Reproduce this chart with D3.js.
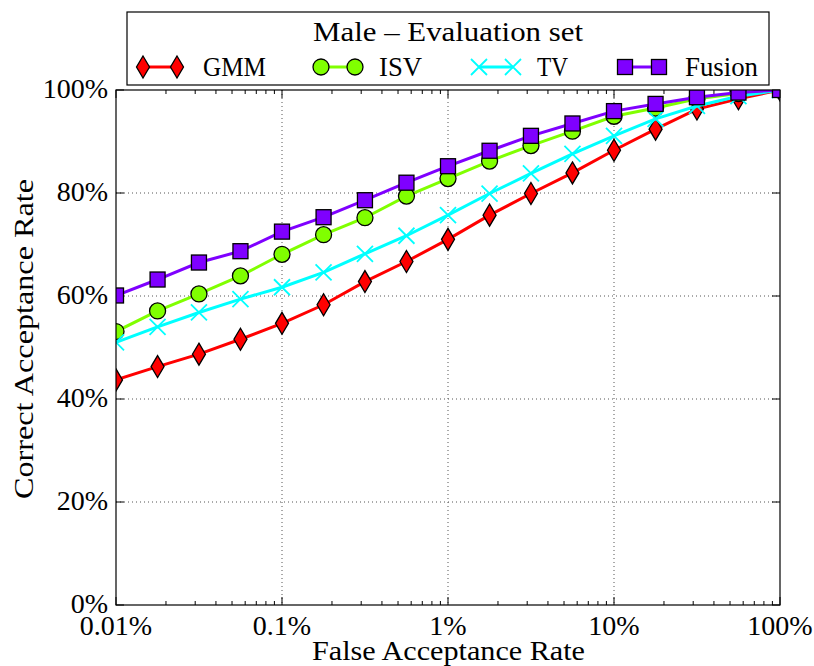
<!DOCTYPE html>
<html>
<head>
<meta charset="utf-8">
<script src="https://cdn.jsdelivr.net/npm/d3@7"></script>
<style>
  body { margin: 0; background: #fff; }
  text { font-family: "Liberation Serif", "DejaVu Serif", serif; fill: #000; }
</style>
</head>
<body>
<svg id="chart" width="814" height="666"></svg>
<script>
// false acceptance rate (%) at each operating point
const far = [0.01, 0.0178, 0.0316, 0.0562, 0.1, 0.178, 0.316, 0.562, 1, 1.78, 3.16, 5.62, 10, 17.8, 31.6, 56.2, 100];
// correct acceptance rate (%) per system
const gmm    = [43.7, 46.3, 48.7, 51.6, 54.7, 58.3, 62.8, 66.7, 71.0, 75.7, 79.9, 83.9, 88.3, 92.4, 96.3, 98.3, 100];
const isv    = [53.1, 57.1, 60.4, 63.9, 68.1, 71.9, 75.2, 79.4, 82.8, 86.2, 89.2, 92.0, 94.9, 96.5, 98.3, 99.3, 100];
const tv     = [51.0, 54.0, 56.8, 59.4, 61.7, 64.6, 68.2, 71.7, 75.7, 79.9, 83.8, 87.6, 91.1, 94.4, 96.9, 98.8, 100];
const fusion = [60.1, 63.2, 66.5, 68.7, 72.5, 75.3, 78.6, 82.0, 85.2, 88.2, 91.1, 93.5, 95.9, 97.3, 98.6, 99.5, 100];
const seriesNames = ["GMM", "ISV", "TV", "Fusion"];
const xTickLabels = ["0.01%", "0.1%", "1%", "10%", "100%"];
const yTickLabels = ["0%", "20%", "40%", "60%", "80%", "100%"];

const series = [
  { name: seriesNames[0], values: gmm,    color: "#ff0000", marker: "diamond" },
  { name: seriesNames[1], values: isv,    color: "#80ff00", marker: "circle" },
  { name: seriesNames[2], values: tv,     color: "#00ffff", marker: "x" },
  { name: seriesNames[3], values: fusion, color: "#7f00ff", marker: "square" }
];

const margin = { top: 90, right: 34, bottom: 61, left: 116 };
const width = 814 - margin.left - margin.right;
const height = 666 - margin.top - margin.bottom;

const svg = d3.select("#chart");
const g = svg.append("g").attr("transform", `translate(${margin.left},${margin.top})`);

const x = d3.scaleLog().domain([0.01, 100]).range([0, width]);
const y = d3.scaleLinear().domain([0, 100]).range([height, 0]);

g.append("clipPath").attr("id", "plotclip")
  .append("rect").attr("width", width).attr("height", height);

// grid
const majorX = [0.01, 0.1, 1, 10, 100];
const majorY = [0, 20, 40, 60, 80, 100];
g.selectAll(".gx").data(majorX.slice(1, -1)).enter().append("line")
  .attr("x1", d => x(d)).attr("x2", d => x(d)).attr("y1", 0).attr("y2", height)
  .attr("stroke", "#555").attr("stroke-width", 1).attr("stroke-dasharray", "1,3");
g.selectAll(".gy").data(majorY.slice(1, -1)).enter().append("line")
  .attr("y1", d => y(d)).attr("y2", d => y(d)).attr("x1", 0).attr("x2", width)
  .attr("stroke", "#555").attr("stroke-width", 1).attr("stroke-dasharray", "1,3");

// ticks (inside, top and bottom / left and right)
const minorX = x.ticks().filter(d => !majorX.includes(d));
function xTicks(vals, len) {
  [0, height].forEach(base => {
    const dir = base === 0 ? 1 : -1;
    g.selectAll(null).data(vals).enter().append("line")
      .attr("x1", d => x(d)).attr("x2", d => x(d))
      .attr("y1", base).attr("y2", base + dir * len)
      .attr("stroke", "#000").attr("stroke-width", 1);
  });
}
xTicks(majorX, 8);
xTicks(minorX, 4);
[0, width].forEach(base => {
  const dir = base === 0 ? 1 : -1;
  g.selectAll(null).data(majorY).enter().append("line")
    .attr("y1", d => y(d)).attr("y2", d => y(d))
    .attr("x1", base).attr("x2", base + dir * 8)
    .attr("stroke", "#000").attr("stroke-width", 1);
});

// tick labels
g.selectAll(".xl").data(majorX).enter().append("text")
  .attr("x", d => x(d)).attr("y", height + 30)
  .attr("text-anchor", "middle").attr("font-size", 28)
  .text((d, i) => xTickLabels[i]);
g.selectAll(".yl").data(majorY).enter().append("text")
  .attr("x", -8).attr("y", d => y(d) + 8)
  .attr("text-anchor", "end").attr("font-size", 28)
  .text((d, i) => yTickLabels[i]);

// axis titles
g.append("text").attr("x", 448.5 - margin.left).attr("y", 660 - margin.top)
  .attr("text-anchor", "middle").attr("font-size", 27)
  .attr("textLength", 273).attr("lengthAdjust", "spacingAndGlyphs")
  .text("False Acceptance Rate");
g.append("text").attr("transform", `translate(${33 - margin.left},${339 - margin.top}) rotate(-90)`)
  .attr("text-anchor", "middle").attr("font-size", 27)
  .attr("textLength", 320).attr("lengthAdjust", "spacingAndGlyphs")
  .text("Correct Acceptance Rate");

// markers
function drawMarker(sel, type, color) {
  if (type === "diamond") {
    sel.append("path").attr("d", "M0,-11L6.5,0L0,11L-6.5,0Z")
      .attr("fill", color).attr("stroke", "#000").attr("stroke-width", 1.3);
  } else if (type === "circle") {
    sel.append("circle").attr("r", 8)
      .attr("fill", color).attr("stroke", "#000").attr("stroke-width", 1.3);
  } else if (type === "square") {
    sel.append("rect").attr("x", -7.5).attr("y", -7.5).attr("width", 15).attr("height", 15)
      .attr("fill", color).attr("stroke", "#000").attr("stroke-width", 1.3);
  } else {
    sel.append("path").attr("d", "M-8,-8L8,8M-8,8L8,-8")
      .attr("fill", "none").attr("stroke", color).attr("stroke-width", 1.8);
  }
}

const line = d3.line().x((d, i) => x(far[i])).y(d => y(d));
const plot = g.append("g").attr("clip-path", "url(#plotclip)");
series.forEach(s => {
  plot.append("path").datum(s.values).attr("d", line)
    .attr("fill", "none").attr("stroke", s.color).attr("stroke-width", 3);
  plot.selectAll(null).data(s.values).enter().append("g")
    .attr("transform", (d, i) => `translate(${x(far[i])},${y(d)})`)
    .each(function () { drawMarker(d3.select(this), s.marker, s.color); });
});

// frame
g.append("rect").attr("width", width).attr("height", height)
  .attr("fill", "none").attr("stroke", "#000").attr("stroke-width", 1.2);

// legend
const lg = svg.append("g");
lg.append("rect").attr("x", 127).attr("y", 12).attr("width", 642).attr("height", 73)
  .attr("fill", "#fff").attr("stroke", "#000").attr("stroke-width", 1.2);
lg.append("text").attr("x", 448).attr("y", 41).attr("text-anchor", "middle")
  .attr("font-size", 27).attr("textLength", 270).attr("lengthAdjust", "spacingAndGlyphs")
  .text("Male \u2013 Evaluation set");
const legendX = [143, 321, 479, 625];
const legendTextX = [203, 379, 537, 685];
const legendTextW = [63, 43, 31, 73];
series.forEach((s, i) => {
  const lx = legendX[i], ly = 67;
  lg.append("line").attr("x1", lx).attr("x2", lx + 34).attr("y1", ly).attr("y2", ly)
    .attr("stroke", s.color).attr("stroke-width", 3);
  [lx, lx + 34].forEach(mx => {
    drawMarker(lg.append("g").attr("transform", `translate(${mx},${ly})`), s.marker, s.color);
  });
  lg.append("text").attr("x", legendTextX[i]).attr("y", 76).attr("font-size", 27)
    .attr("textLength", legendTextW[i]).attr("lengthAdjust", "spacingAndGlyphs")
    .text(s.name);
});
</script>
</body>
</html>
